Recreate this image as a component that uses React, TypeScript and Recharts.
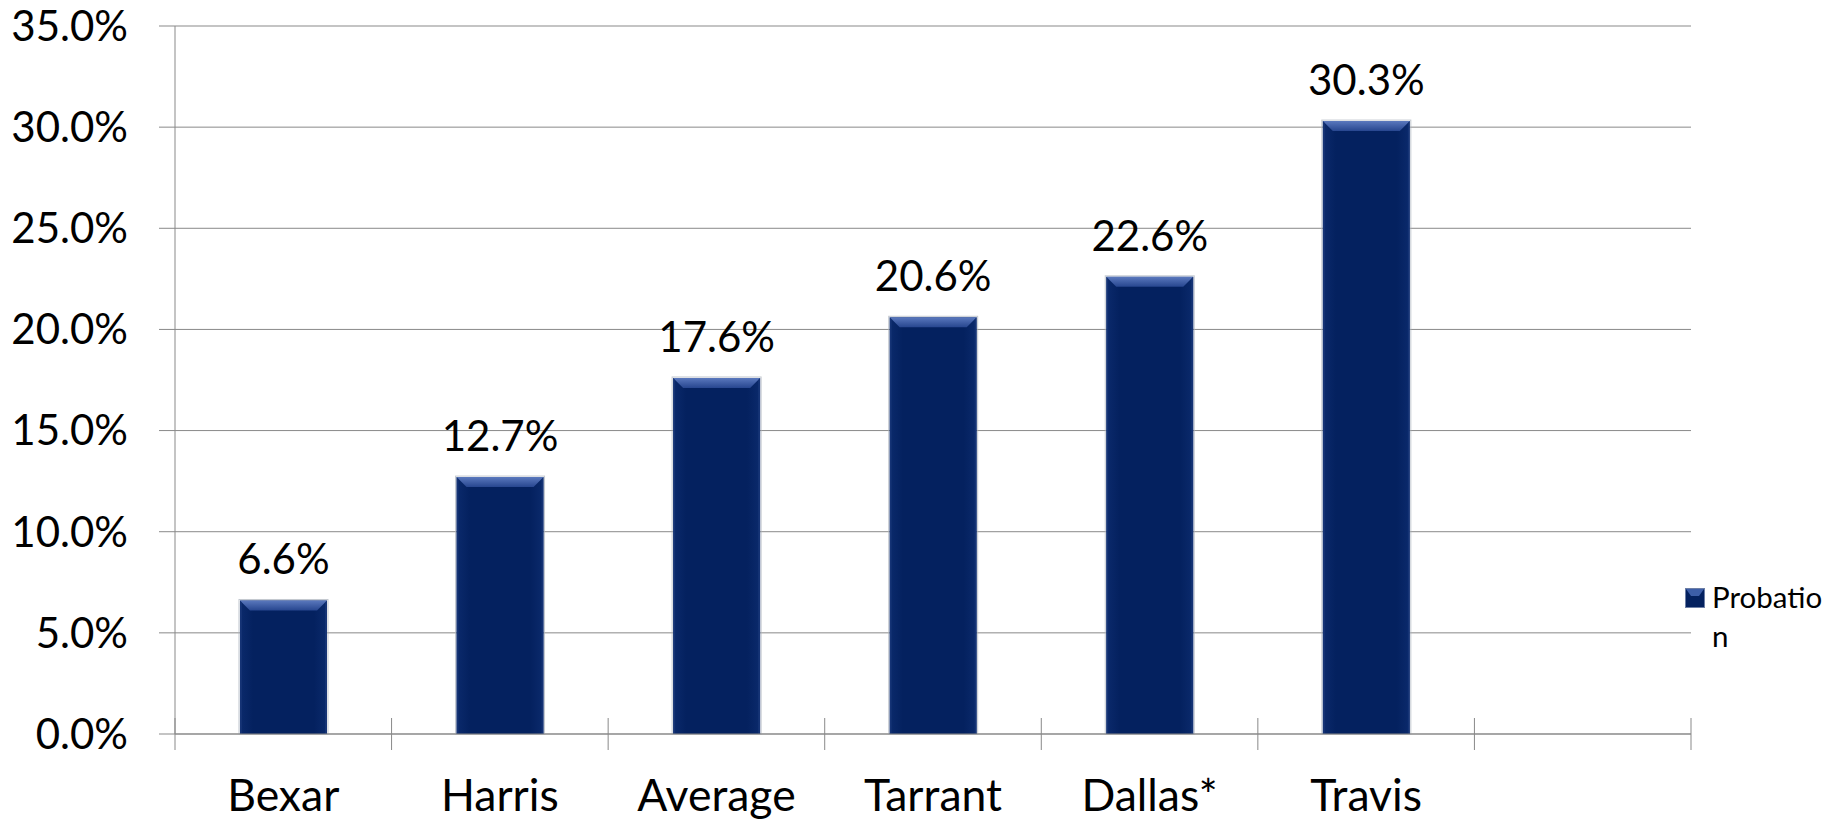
import React from 'react';
import {
  BarChart,
  Bar,
  XAxis,
  YAxis,
  CartesianGrid,
  Legend,
  LabelList,
} from 'recharts';

// Share on probation, by county (last slot is an empty category in the source chart)
const counties = ['Bexar', 'Harris', 'Average', 'Tarrant', 'Dallas*', 'Travis', ''];
const probation: (number | null)[] = [6.6, 12.7, 17.6, 20.6, 22.6, 30.3, null];
const yTicks = [0, 5, 10, 15, 20, 25, 30, 35];
const seriesName = 'Probation';

const chartData = counties.map((county, i) => ({ county, probation: probation[i] }));

const FONT = 'Lato, "Open Sans", sans-serif';
const GRID = '#898989';
const NAVY = '#04215f';
const X_TICK_MARGIN = 45;

function BevelBar(props: any) {
  const { x, y, width, height } = props;
  if (!height || height <= 0) return null;
  const b = Math.min(10, height / 2);
  return (
    <g>
      <rect x={x - 1} y={y - 1} width={width + 2} height={height + 1} fill="none" stroke="#aab0bb" strokeOpacity={0.7} />
      <rect x={x} y={y} width={width} height={height} fill="url(#barBody)" />
      <polygon
        points={`${x},${y} ${x + width},${y} ${x + width - b},${y + b} ${x + b},${y + b}`}
        fill="url(#barTop)"
      />
      <polygon points={`${x},${y} ${x + 2},${y + 2} ${x + 2},${y + height} ${x},${y + height}`} fill="#1d3a7c" opacity={0.6} />
      <polygon
        points={`${x + width},${y} ${x + width - 2},${y + 2} ${x + width - 2},${y + height} ${x + width},${y + height}`}
        fill="#1d3a7c"
        opacity={0.6}
      />
    </g>
  );
}

// category label plus Excel style cross ticks on the band boundaries
function CountyTick(props: any) {
  const { x, y, payload, index, visibleTicksCount } = props;
  const half = payload && payload.offset ? payload.offset : 0;
  const axisY = y - X_TICK_MARGIN;
  const isLast = index === visibleTicksCount - 1;
  return (
    <g>
      <line x1={x - half} x2={x - half} y1={axisY - 16} y2={axisY + 16} stroke={GRID} strokeWidth={1} />
      {isLast && (
        <line x1={x + half} x2={x + half} y1={axisY - 16} y2={axisY + 16} stroke={GRID} strokeWidth={1} />
      )}
      <text x={x} y={y} dy="0.71em" textAnchor="middle" fontSize={44.5} fill="#000" fontFamily={FONT}>
        {payload.value}
      </text>
    </g>
  );
}

function LegendBox() {
  return (
    <div style={{ display: 'flex', alignItems: 'flex-start', fontFamily: FONT }}>
      <svg width={20} height={20} style={{ marginTop: 11, flex: 'none' }}>
        <rect x={0.5} y={0.5} width={19} height={19} fill={NAVY} stroke="#6d7fa6" />
        <polygon points="1,1 19,1 14,8 6,8" fill="#3d5ea8" />
      </svg>
      <div
        style={{
          marginLeft: 7,
          width: 118,
          fontSize: 29.5,
          lineHeight: '39px',
          color: '#000',
          wordBreak: 'break-all',
        }}
      >
        {seriesName}
      </div>
    </div>
  );
}

export default function App() {
  return (
    <div style={{ position: 'absolute', left: 0, top: 0, width: 1835, height: 820, background: '#fff' }}>
      <BarChart
        width={1835}
        height={820}
        data={chartData}
        margin={{ top: 26, right: 144, left: 0, bottom: 0 }}
        barCategoryGap="30%"
        style={{ fontFamily: FONT }}
      >
        <defs>
          <linearGradient id="barBody" x1="0" y1="0" x2="1" y2="0">
            <stop offset="0%" stopColor="#0b2a6c" />
            <stop offset="15%" stopColor={NAVY} />
            <stop offset="85%" stopColor={NAVY} />
            <stop offset="100%" stopColor="#0b2a6c" />
          </linearGradient>
          <linearGradient id="barTop" x1="0" y1="0" x2="0" y2="1">
            <stop offset="0%" stopColor="#5a78bd" />
            <stop offset="100%" stopColor="#27468f" />
          </linearGradient>
        </defs>
        <CartesianGrid vertical={false} stroke={GRID} strokeWidth={1} />
        <XAxis
          dataKey="county"
          height={86}
          axisLine={{ stroke: GRID }}
          tickLine={false}
          tickSize={0}
          tickMargin={X_TICK_MARGIN}
          interval={0}
          tick={<CountyTick />}
        />
        <YAxis
          width={175}
          type="number"
          domain={[0, 35]}
          ticks={yTicks}
          interval={0}
          axisLine={{ stroke: GRID }}
          tickLine={{ stroke: GRID }}
          tickSize={16}
          tickMargin={31}
          tick={{ fontSize: 42, fill: '#000', fontFamily: FONT }}
          tickFormatter={(v: number) => v.toFixed(1) + '%'}
        />
        <Legend
          layout="horizontal"
          align="center"
          verticalAlign="middle"
          wrapperStyle={{ left: 1685, top: 577, width: 150 }}
          content={() => <LegendBox />}
        />
        <Bar dataKey="probation" name={seriesName} fill={NAVY} shape={<BevelBar />} isAnimationActive={false}>
          <LabelList
            dataKey="probation"
            position="top"
            offset={26}
            fontSize={42}
            fill="#000"
            fontFamily={FONT}
            formatter={(v: any) => (v == null ? '' : Number(v).toFixed(1) + '%')}
          />
        </Bar>
      </BarChart>
    </div>
  );
}
